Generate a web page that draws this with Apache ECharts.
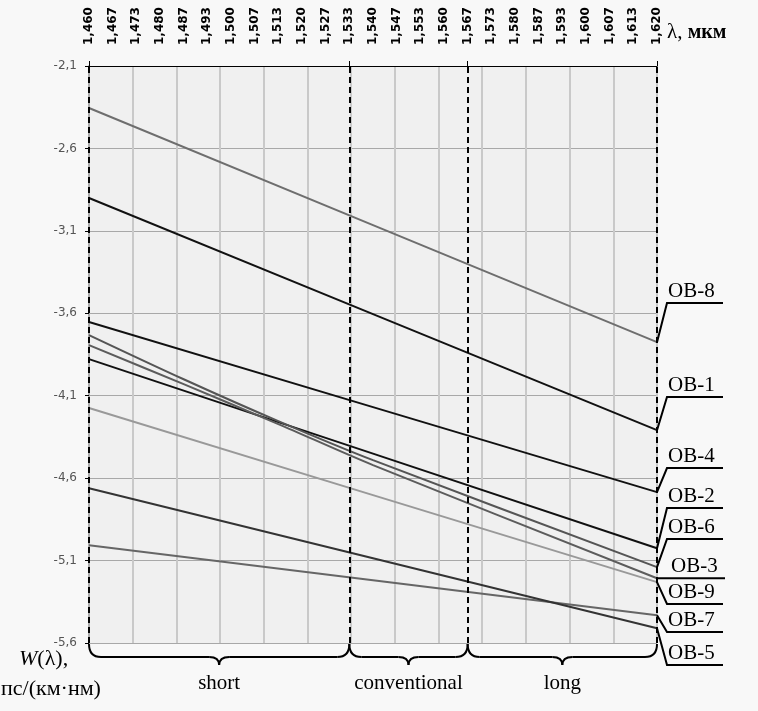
<!DOCTYPE html>
<html>
<head>
<meta charset="utf-8">
<script src="https://cdn.jsdelivr.net/npm/echarts@6/dist/echarts.min.js"></script>
<style>
  html, body { margin: 0; padding: 0; background: #f8f8f8; }
  #chart { width: 758px; height: 711px; }
</style>
</head>
<body>
<div id="chart"></div>
<script>
// длины волн (верхняя ось)
const wavelengths = ["1,460", "1,467", "1,473", "1,480", "1,487", "1,493", "1,500", "1,507", "1,513",
  "1,520", "1,527", "1,533", "1,540", "1,547", "1,553", "1,560", "1,567", "1,573", "1,580", "1,587",
  "1,593", "1,600", "1,607", "1,613", "1,620"];

// индексы точек, в которых сняты значения
const lineIdx = [0, 12, 24];
const curveIdx = [0, 4, 8, 12, 24];

// W(λ), пс/(км·нм)
const ob8 = [-2.355, -3.065, -3.775];
const ob1 = [-2.901, -3.605, -4.309];
const ob4 = [-3.653, -4.169, -4.685];
const ob2 = [-3.878, -4.451, -5.025];
const ob6 = [-3.732, -4.000, -4.254, -4.491, -5.140];
const ob3 = [-3.793, -4.030, -4.272, -4.521, -5.207];
const ob9 = [-4.175, -4.703, -5.231];
const ob5 = [-4.661, -5.086, -5.510];
const ob7 = [-5.007, -5.219, -5.431];

// диапазоны
const bandNames = ["short", "conventional", "long"];
const bandEdges = [0, 11, 16, 24];

var dom = document.getElementById("chart");
var myChart = echarts.init(dom, null, { renderer: "canvas" });

function pairs(idx, vals) {
  return idx.map((i, k) => [i, vals[k]]);
}

// серии: имя, индексы, значения, цвет, положение подписи справа
const seriesDefs = [
  { name: "OB-8", idx: lineIdx, vals: ob8, color: "#6e6e6e", labelY: 303 },
  { name: "OB-1", idx: lineIdx, vals: ob1, color: "#111111", labelY: 397 },
  { name: "OB-4", idx: lineIdx, vals: ob4, color: "#111111", labelY: 468 },
  { name: "OB-2", idx: lineIdx, vals: ob2, color: "#111111", labelY: 508 },
  { name: "OB-6", idx: curveIdx, vals: ob6, color: "#555555", labelY: 539 },
  { name: "OB-3", idx: curveIdx, vals: ob3, color: "#5c5c5c", labelY: 577, flat: true },
  { name: "OB-9", idx: lineIdx, vals: ob9, color: "#999999", labelY: 604 },
  { name: "OB-7", idx: lineIdx, vals: ob7, color: "#666666", labelY: 632 },
  { name: "OB-5", idx: lineIdx, vals: ob5, color: "#333333", labelY: 665 },
];

var series = seriesDefs.map((s) => ({
  name: s.name,
  type: "line",
  xAxisIndex: 0,
  yAxisIndex: 0,
  data: pairs(s.idx, s.vals),
  smooth: s.idx.length > 3 ? 0.3 : false,
  symbol: "none",
  lineStyle: { color: s.color, width: 2 },
  z: 3,
}));

// пунктирные границы диапазонов
series.push({
  type: "line",
  xAxisIndex: 0,
  yAxisIndex: 0,
  data: [],
  markLine: {
    silent: true,
    symbol: "none",
    label: { show: false },
    lineStyle: { color: "#000", type: [6, 4], width: 2 },
    data: bandEdges.map((e) => ({ xAxis: e })),
  },
  z: 4,
});

var option = {
  backgroundColor: "#f8f8f8",
  animation: false,
  grid: {
    left: 89,
    right: 101,
    top: 66,
    bottom: 68,
    show: true,
    backgroundColor: "#f0f0f0",
    borderWidth: 0,
  },
  xAxis: [
    {
      type: "category",
      position: "top",
      data: wavelengths,
      boundaryGap: false,
      axisLine: { show: true, lineStyle: { color: "#000", width: 1 } },
      axisTick: {
        show: true,
        length: 5,
        lineStyle: { color: "#000" },
        interval: function (i) {
          return bandEdges.indexOf(i) >= 0;
        },
      },
      axisLabel: {
        rotate: -90,
        interval: 0,
        margin: 21,
        color: "#000",
        fontFamily: "DejaVu Sans",
        fontSize: 12,
        fontWeight: "bold",
      },
      splitLine: { show: false },
    },
    {
      // вертикальная сетка (13 делений)
      type: "value",
      position: "bottom",
      min: 0,
      max: 13,
      interval: 1,
      axisLine: { show: false },
      axisTick: { show: false },
      axisLabel: { show: false },
      splitLine: { show: true, lineStyle: { color: "#c9c9c9", width: 2 } },
    },
  ],
  yAxis: {
    type: "value",
    min: -5.6,
    max: -2.1,
    interval: 0.5,
    axisLine: { show: true, lineStyle: { color: "#aaaaaa", width: 2 } },
    axisTick: { show: true, length: 4, lineStyle: { color: "#000" } },
    axisLabel: {
      margin: 12,
      color: "#555",
      fontFamily: "DejaVu Sans",
      fontSize: 12,
      formatter: function (v) {
        return v.toFixed(1).replace(".", ",");
      },
    },
    splitLine: { show: true, lineStyle: { color: "#a8a8a8", width: 1 } },
  },
  series: series,
};

myChart.setOption(option);

// подписи справа, фигурные скобки и названия осей
function buildGraphics() {
  var g = [];
  var serif = "Liberation Serif";
  var stroke = { stroke: "#000", lineWidth: 2, fill: null };
  seriesDefs.forEach((s) => {
    var last = s.vals[s.vals.length - 1];
    var p = myChart.convertToPixel({ xAxisIndex: 0, yAxisIndex: 0 }, [24, last]);
    var pts = s.flat
      ? [[p[0], p[1]], [p[0] + 68, p[1]]]
      : [[p[0], p[1]], [p[0] + 10, s.labelY], [p[0] + 66, s.labelY]];
    g.push({ type: "polyline", shape: { points: pts }, style: stroke, z: 10 });
    g.push({
      type: "text",
      x: p[0] + (s.flat ? 14 : 11),
      y: (s.flat ? p[1] : s.labelY) - 1,
      style: {
        text: s.name,
        font: "21px " + serif,
        fill: "#000",
        textVerticalAlign: "bottom",
      },
      z: 10,
    });
  });

  var bottom = myChart.convertToPixel({ yAxisIndex: 0 }, -5.6);
  for (var b = 0; b < bandNames.length; b++) {
    var x0 = myChart.convertToPixel({ xAxisIndex: 0 }, bandEdges[b]);
    var x1 = myChart.convertToPixel({ xAxisIndex: 0 }, bandEdges[b + 1]);
    var mid = (x0 + x1) / 2;
    var yt = bottom + 1, yh = bottom + 14, yb = bottom + 22;
    var curves = [
      [x0, yt, x0 + 12, yh, x0, yh],
      [mid - 10, yh, mid, yb, mid, yh],
      [mid, yb, mid + 10, yh, mid, yh],
      [x1 - 12, yh, x1, yt, x1, yh],
    ];
    curves.forEach((c) => {
      g.push({
        type: "bezierCurve",
        shape: { x1: c[0], y1: c[1], x2: c[2], y2: c[3], cpx1: c[4], cpy1: c[5] },
        style: stroke,
        z: 10,
      });
    });
    g.push({ type: "line", shape: { x1: x0 + 12, y1: yh, x2: mid - 10, y2: yh }, style: stroke, z: 10 });
    g.push({ type: "line", shape: { x1: mid + 10, y1: yh, x2: x1 - 12, y2: yh }, style: stroke, z: 10 });
    g.push({
      type: "text",
      x: mid,
      y: bottom + 40,
      style: {
        text: bandNames[b],
        font: "21px " + serif,
        fill: "#000",
        textAlign: "center",
        textVerticalAlign: "middle",
      },
      z: 10,
    });
  }

  g.push({
    type: "text",
    x: 19,
    y: 648,
    style: {
      text: "{i|W}(λ),",
      font: "22px " + serif,
      fill: "#000",
      rich: { i: { fontFamily: serif, fontSize: 22, fontStyle: "italic", fill: "#000" } },
    },
  });
  g.push({
    type: "text",
    x: 1,
    y: 678,
    style: { text: "пс/(км·нм)", font: "22px " + serif, fill: "#000" },
  });
  g.push({
    type: "text",
    x: 667,
    y: 22,
    style: {
      text: "λ, {b|мкм}",
      font: "21px " + serif,
      fill: "#000",
      rich: { b: { fontFamily: serif, fontSize: 20, fontWeight: "bold", fill: "#000" } },
    },
  });
  return g;
}

myChart.setOption({ graphic: buildGraphics() });

window.addEventListener("resize", function () {
  myChart.resize();
});
</script>
</body>
</html>
